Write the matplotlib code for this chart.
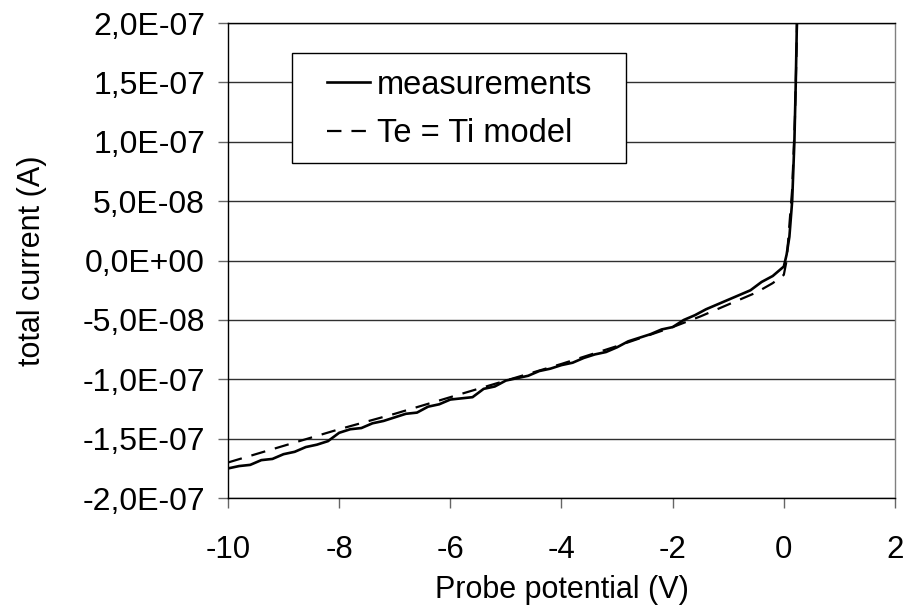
import matplotlib
matplotlib.use("Agg")
import matplotlib.pyplot as plt
from matplotlib.ticker import FuncFormatter, MultipleLocator
from matplotlib.patches import Rectangle

plt.rcParams['font.family'] = ['Liberation Sans', 'DejaVu Sans']

# Probe potential (V)
meas_v = [-10.0, -9.8, -9.6, -9.4, -9.2, -9.0, -8.8, -8.6, -8.4, -8.2,
          -8.0, -7.8, -7.6, -7.4, -7.2, -7.0, -6.8, -6.6, -6.4, -6.2,
          -6.0, -5.8, -5.6, -5.4, -5.2, -5.0, -4.8, -4.6, -4.4, -4.2,
          -4.0, -3.8, -3.6, -3.4, -3.2, -3.0, -2.8, -2.6, -2.4, -2.2,
          -2.0, -1.8, -1.6, -1.4, -1.2, -1.0, -0.8, -0.6, -0.4, -0.2,
          0.0, 0.05, 0.1, 0.15, 0.19, 0.215, 0.235, 0.245]
# measured total current (units of 1e-8 A)
meas_i = [-17.5, -17.3, -17.2, -16.8, -16.7, -16.3, -16.1, -15.7, -15.5, -15.2,
          -14.5, -14.2, -14.1, -13.7, -13.5, -13.2, -12.9, -12.8, -12.3, -12.1,
          -11.7, -11.6, -11.5, -10.8, -10.6, -10.1, -9.9, -9.7, -9.3, -9.1,
          -8.8, -8.6, -8.2, -7.9, -7.7, -7.3, -6.8, -6.5, -6.2, -5.8,
          -5.6, -5.0, -4.6, -4.1, -3.7, -3.3, -2.9, -2.5, -1.8, -1.3,
          -0.5, 0.5, 2.0, 5.0, 10.0, 15.0, 20.0, 22.0]

# Te = Ti model
model_v = [-10.0, -9.0, -8.0, -7.0, -6.0, -5.0, -4.0, -3.0, -2.0, -1.5,
           -1.0, -0.5, -0.2, 0.0, 0.05, 0.1, 0.15, 0.2, 0.23, 0.245]
model_i = [-17.0, -15.6, -14.2, -12.9, -11.5, -10.1, -8.7, -7.2, -5.6, -4.7,
           -3.7, -2.7, -1.9, -1.2, 0.0, 3.0, 6.0, 12.0, 18.0, 22.0]

UNIT = 1e-8

fig = plt.figure(figsize=(9.17, 6.06), dpi=100)
ax = fig.add_axes([0.2486, 0.178, 0.7274, 0.784])

ax.plot(meas_v, [v * UNIT for v in meas_i], color='black', lw=1.9,
        label='measurements', zorder=3)
ax.plot(model_v, [v * UNIT for v in model_i], color='black', lw=1.6,
        linestyle=(0, (6.5, 4.5)), label='Te = Ti model', zorder=3)

ax.set_xlim(-10, 2)
ax.set_ylim(-2e-7, 2e-7)
ax.xaxis.set_major_locator(MultipleLocator(2))
ax.yaxis.set_major_locator(MultipleLocator(5e-8))
ax.yaxis.set_major_formatter(FuncFormatter(lambda v, p: f"{v:.1E}".replace('.', ',')))
ax.xaxis.set_major_formatter(FuncFormatter(lambda v, p: f"{v:g}"))

ax.grid(axis='y', color='#303030', lw=1.0)
ax.set_axisbelow(True)

for s in ['left', 'bottom', 'top']:
    ax.spines[s].set_color('black')
    ax.spines[s].set_linewidth(1.0)
ax.spines['right'].set_color('#808080')
ax.spines['right'].set_linewidth(1.0)

ax.tick_params(axis='both', direction='out', length=7.5, width=1.0,
               color='#666666')
ax.tick_params(axis='y', pad=9, labelsize=23)
ax.tick_params(axis='x', pad=19, labelsize=22.5)

ax.set_xlabel('Probe potential (V)', fontsize=22)
ax.set_ylabel('total current (A)', fontsize=22)
ax.xaxis.set_label_coords(0.5, -0.162)
ax.yaxis.set_label_coords(-0.271, 0.5)

# legend frame
ax.add_patch(Rectangle((0.096, 0.705), 0.501, 0.232, transform=ax.transAxes,
                       facecolor='white', edgecolor='black', lw=1.0, zorder=4))
leg = ax.legend(loc='center left', bbox_to_anchor=(0.1484, 0.818), fontsize=23.5,
                frameon=False, handlelength=1.32, handletextpad=0.21,
                borderpad=0, borderaxespad=0, labelspacing=0.55)
leg.set_zorder(5)

fig.savefig('out.png', dpi=100)
